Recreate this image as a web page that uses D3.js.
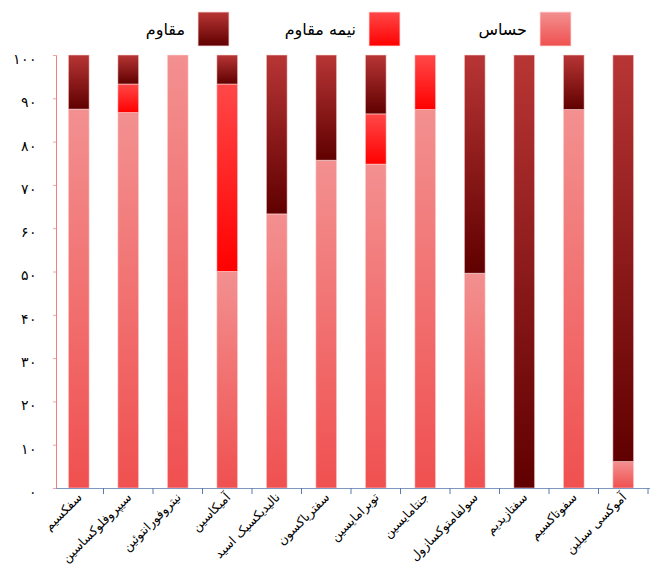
<!DOCTYPE html>
<html><head><meta charset="utf-8">
<script src="https://cdn.jsdelivr.net/npm/d3@7/dist/d3.min.js"></script>
<style>body{margin:0;background:#fff}svg{display:block}text{font-family:"DejaVu Sans",sans-serif}</style>
</head><body>
<svg id="c" width="650" height="570"></svg>
<script>
const categories = ["سفکسیم","سیپروفلوکساسین","نیتروفورانتوئین","آمیکاسین","نالیدیکسیک اسید","سفتریاکسون","توبرامایسین","جنتامایسین","سولفامتوکسازول","سفتازیدیم","سفوتاکسیم","آموکسی سیلین"];
const sensitive     = [87.5, 86.7, 100, 50.0, 63.3, 75.7, 74.8, 87.4, 49.6, 0, 87.4, 6.1];
const semiResistant = [0,    6.6,  0,   43.3, 0,    0,    11.6, 12.6, 0,    0, 0,    0];
const resistant     = [12.5, 6.7,  0,   6.7,  36.7, 24.3, 13.6, 0,    50.4, 100, 12.6, 93.9];
const seriesNames = ["حساس","نیمه مقاوم","مقاوم"];
const yTicks = [0,10,20,30,40,50,60,70,80,90,100];

const toFa = n => String(n).replace(/\d/g, d => "۰۱۲۳۴۵۶۷۸۹"[d]);
const svg = d3.select("#c");
const defs = svg.append("defs");
const grads = [["g0","#f39090","#f05050"],["g1","#ff4848","#ff0000"],["g2","#b83535","#600000"]];
grads.forEach(([id,a,b])=>{
  const g = defs.append("linearGradient").attr("id",id).attr("x1",0).attr("y1",0).attr("x2",0).attr("y2",1);
  g.append("stop").attr("offset","0%").attr("stop-color",a);
  g.append("stop").attr("offset","100%").attr("stop-color",b);
});

const x = d3.scaleBand().domain(categories).range([54,648]).paddingInner(0.58).paddingOuter(0.29);
const y = d3.scaleLinear().domain([0,100]).range([488,55]);

const rows = categories.map((c,i)=>({cat:c, s0:sensitive[i], s1:semiResistant[i], s2:resistant[i]}));
const stack = d3.stack().keys(["s0","s1","s2"])(rows);

stack.forEach((layer,k)=>{
  svg.append("g").selectAll("rect").data(layer.filter(d=>d[1]-d[0]>0)).join("rect")
    .attr("x",d=>x(d.data.cat)).attr("width",x.bandwidth())
    .attr("y",d=>y(d[1])).attr("height",d=>y(d[0])-y(d[1]))
    .attr("fill",`url(#g${k})`).attr("stroke","rgba(255,220,220,0.7)").attr("stroke-width",0.8);
});

// y axis
const ya = svg.append("g").attr("transform","translate(56,0)")
  .call(d3.axisLeft(y).tickValues(yTicks).tickSize(3).tickFormat(d=>toFa(d)));
ya.select(".domain").attr("stroke","#f08080");
ya.selectAll(".tick line").attr("stroke","#f5a0a0");
ya.selectAll(".tick text").attr("font-size",14).attr("font-weight",300).attr("fill","#000").attr("x",-19).attr("dy","0.6em");

// x axis
const band = x.step();
const xa = svg.append("g");
xa.append("line").attr("x1",56).attr("x2",650).attr("y1",488.5).attr("y2",488.5).attr("stroke","#7f98c0").attr("stroke-width",1.2);
xa.selectAll("line.t").data(categories).join("line").attr("class","t")
  .attr("x1",d=>x(d)+x.bandwidth()/2+band/2).attr("x2",d=>x(d)+x.bandwidth()/2+band/2)
  .attr("y1",488).attr("y2",494).attr("stroke","#5a7ab0");
xa.selectAll("text").data(categories).join("text")
  .attr("transform",d=>`translate(${x(d)+x.bandwidth()/2+4},${498}) rotate(-45)`)
  .attr("text-anchor","end").attr("font-size",12.5).attr("fill","#000").text(d=>d);

// legend
const legend = [{n:seriesNames[0],g:"g0",sx:540},{n:seriesNames[1],g:"g1",sx:369},{n:seriesNames[2],g:"g2",sx:198}];
const lg = svg.append("g");
legend.forEach(l=>{
  lg.append("rect").attr("x",l.sx).attr("y",12).attr("width",31).attr("height",34).attr("fill",`url(#${l.g})`).attr("stroke","rgba(255,220,220,0.8)");
  lg.append("text").attr("x",l.sx-13).attr("y",35).attr("text-anchor","end").attr("font-size",16).attr("fill","#000").text(l.n);
});
</script>
</body></html>
